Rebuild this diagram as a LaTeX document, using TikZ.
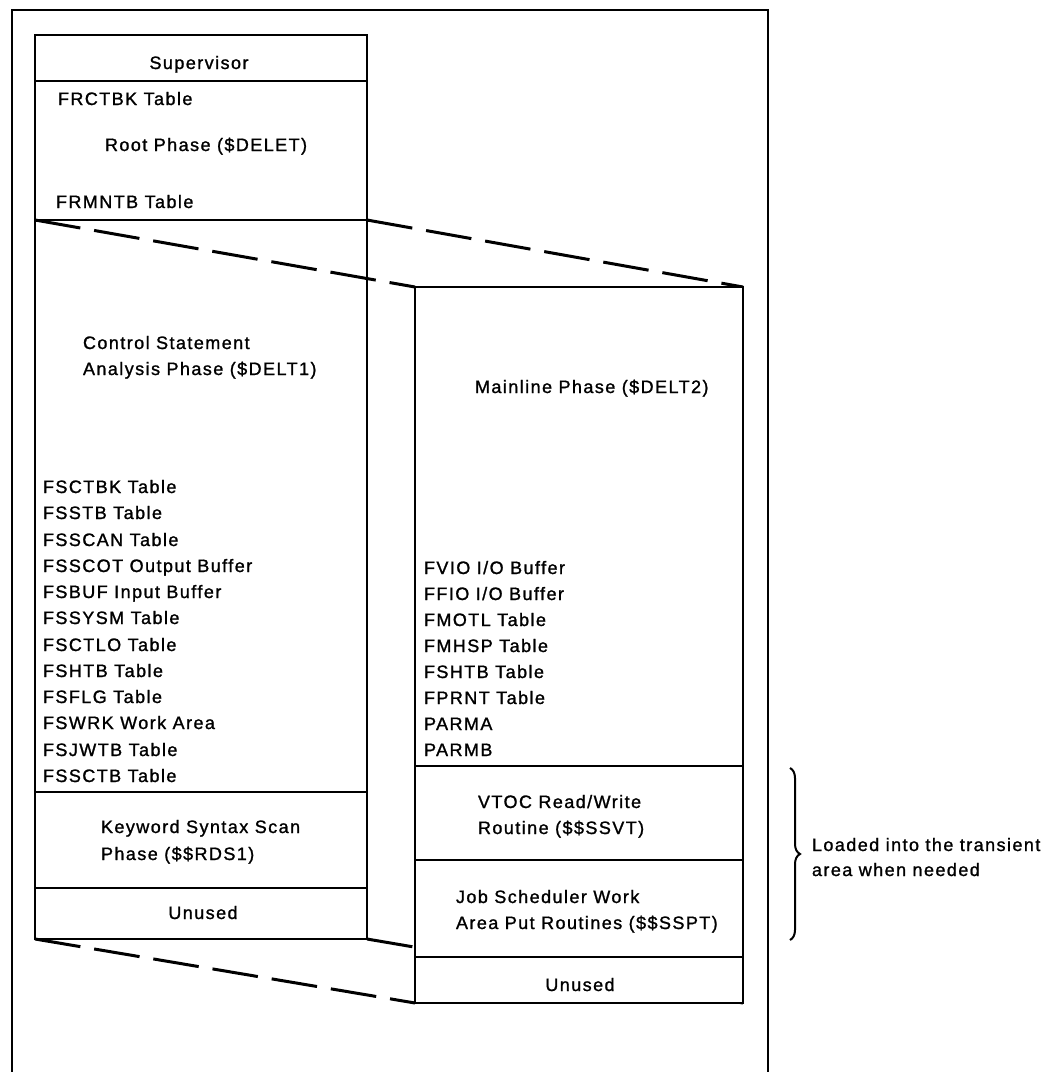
\documentclass[tikz,border=0pt]{standalone}
\usepackage{fontspec}
\setmainfont[LetterSpace=8,FakeBold=1.2]{Liberation Sans}
\usetikzlibrary{decorations.pathreplacing}
\begin{document}
\begin{tikzpicture}[x=1pt,y=-1pt,line width=2pt,
  lbl/.style={inner sep=0pt,anchor=west,text height=12pt,text depth=0pt,font=\fontsize{18}{21}\selectfont},
  clbl/.style={lbl,anchor=center},
  colbox/.style={draw,fill=white,line width=2.6pt},
  sep/.style={line width=2.6pt},
  dashln/.style={dash pattern=on 46pt off 14pt,line width=3pt},
  framel/.style={line width=2.8pt}]
\useasboundingbox (0,0) rectangle (1050,1072);
% outer frame
\coordinate (F-bl) at (12,1072);
\coordinate (F-tl) at (12,10);
\coordinate (F-tr) at (768,10);
\coordinate (F-br) at (768,1072);
\draw[framel] (F-bl) -- (F-tl) -- (F-tr) -- (F-br);
% left column corners
\coordinate (L-tl) at (35,35);
\coordinate (L-br) at (367,939);
\coordinate (L-rt) at (35,220);
\coordinate (L-rr) at (367,220);
\coordinate (L-bl) at (35,939);
% right column corners
\coordinate (R-tl) at (415,287);
\coordinate (R-tr) at (743,287);
\coordinate (R-bl) at (415,1003);
\coordinate (R-br) at (743,1003);
% left column
\draw[colbox] (L-tl) rectangle (L-br);
\draw[sep] (35,81) -- (367,81);
\draw[sep] (L-rt) -- (L-rr);
\draw[sep] (35,792) -- (367,792);
\draw[sep] (35,888) -- (367,888);
% dashed projection lines
\draw[dashln] (L-br) -- (R-br);
\draw[dashln] (L-rt) -- (R-tl);
\draw[dashln] (L-rr) -- (R-tr);
\draw[dashln] (L-bl) -- (R-bl);
% right column
\draw[colbox] (R-tl) rectangle (R-br);
\draw[sep] (415,766) -- (743,766);
\draw[sep] (415,860) -- (743,860);
\draw[sep] (415,957) -- (743,957);
% left column texts
\node[clbl] (sup) at (199,63) {Supervisor};
\node[lbl] (frctbk) at (57,99) {FRCTBK Table};
\node[lbl] (root) at (104,145) {Root Phase (\$DELET)};
\node[lbl] (frmntb) at (55,202) {FRMNTB Table};
\node[lbl] (csa1) at (82,343) {Control Statement};
\node[lbl] (csa2) at (82,369) {Analysis Phase (\$DELT1)};
\node[lbl] (l1) at (42,487) {FSCTBK Table};
\node[lbl] (l2) at (42,513) {FSSTB Table};
\node[lbl] (l3) at (42,540) {FSSCAN Table};
\node[lbl] (l4) at (42,566) {FSSCOT Output Buffer};
\node[lbl] (l5) at (42,592) {FSBUF Input Buffer};
\node[lbl] (l6) at (42,618) {FSSYSM Table};
\node[lbl] (l7) at (42,645) {FSCTLO Table};
\node[lbl] (l8) at (42,671) {FSHTB Table};
\node[lbl] (l9) at (42,697) {FSFLG Table};
\node[lbl] (l10) at (42,723) {FSWRK Work Area};
\node[lbl] (l11) at (42,750) {FSJWTB Table};
\node[lbl] (l12) at (42,776) {FSSCTB Table};
\node[lbl] (kss1) at (100,827) {Keyword Syntax Scan};
\node[lbl] (kss2) at (100,854) {Phase (\$\$RDS1)};
\node[clbl] (unl) at (203,913) {Unused};
% right column texts
\node[lbl] (main) at (474,387) {Mainline Phase (\$DELT2)};
\node[lbl] (r1) at (423,568) {FVIO I/O Buffer};
\node[lbl] (r2) at (423,594) {FFIO I/O Buffer};
\node[lbl] (r3) at (423,620) {FMOTL Table};
\node[lbl] (r4) at (423,646) {FMHSP Table};
\node[lbl] (r5) at (423,672) {FSHTB Table};
\node[lbl] (r6) at (423,698) {FPRNT Table};
\node[lbl] (r7) at (423,724) {PARMA};
\node[lbl] (r8) at (423,750) {PARMB};
\node[lbl] (vt1) at (477,802) {VTOC Read/Write};
\node[lbl] (vt2) at (477,828) {Routine (\$\$SSVT)};
\node[lbl] (js1) at (455,897) {Job Scheduler Work};
\node[lbl] (js2) at (455,923) {Area Put Routines (\$\$SSPT)};
\node[clbl] (unr) at (580,985) {Unused};
% brace and note
\coordinate (B-t) at (790,768);
\coordinate (B-b) at (790,940);
\draw[line width=2pt,decorate,decoration={brace,amplitude=10pt}] (B-t) -- (B-b);
\node[lbl] (note1) at (811,845) {Loaded into the transient};
\node[lbl] (note2) at (811,870) {area when needed};
\end{tikzpicture}
\end{document}
